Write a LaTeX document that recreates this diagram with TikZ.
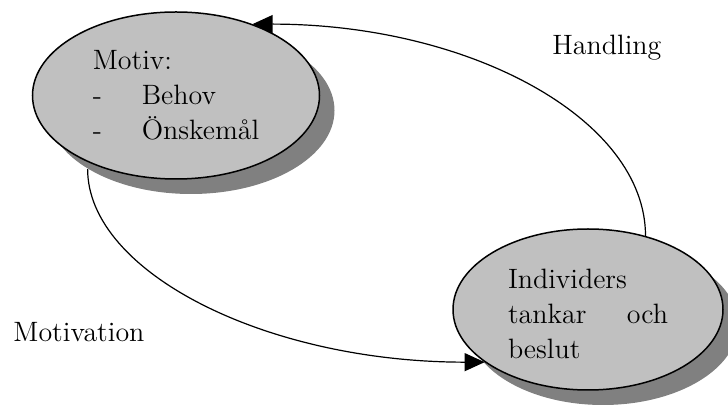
\documentclass[tikz,border=0pt]{standalone}
\usepackage{fontspec}
\usetikzlibrary{arrows.meta,shapes.geometric,shadows}
\definecolor{ovalfill}{HTML}{C0C0C0}
\definecolor{ovalshadow}{HTML}{808080}
\begin{document}
\begin{tikzpicture}[x=0.5pt,y=-0.5pt,
  oval/.style={ellipse, draw=black, line width=0.75pt, fill=ovalfill,
    inner sep=0pt, align=left, font=\fontsize{14}{17.5}\selectfont,
    drop shadow={shadow xshift=7.5pt, shadow yshift=-7.5pt, fill=ovalshadow, opacity=1}},
  conn/.style={line width=0.6pt, -{Triangle[length=10pt,width=9pt]}},
  caption/.style={anchor=base west, inner sep=0pt, font=\fontsize{14}{17.5}\selectfont}]
\useasboundingbox (0,0) rectangle (728,405);

% the two states of the cycle
\node[oval, minimum width=143.5pt, minimum height=83.5pt] (motiv) at (176,95.5)
  {Motiv:\\\makebox[24.5pt][l]{-}Behov\\\makebox[24.5pt][l]{-}Önskemål};
\node[oval, minimum width=135pt, minimum height=80.5pt] (indiv) at (588,309.5)
  {\rule{0pt}{14.5pt}Individers\\\makebox[80pt][s]{tankar\hfill och}\\beslut};

% connectors
\draw[conn, shorten <=3.5pt] (motiv.217) .. controls +(0,110) and +(-219,0) .. (indiv.207);
\draw[conn] (indiv.52) .. controls +(0,-117) and +(217,0) .. (motiv.43);

% connector labels
\node[caption] (handling) at (552,55) {Handling};
\node[caption] (motivation) at (13,342) {Motivation};
\end{tikzpicture}
\end{document}
